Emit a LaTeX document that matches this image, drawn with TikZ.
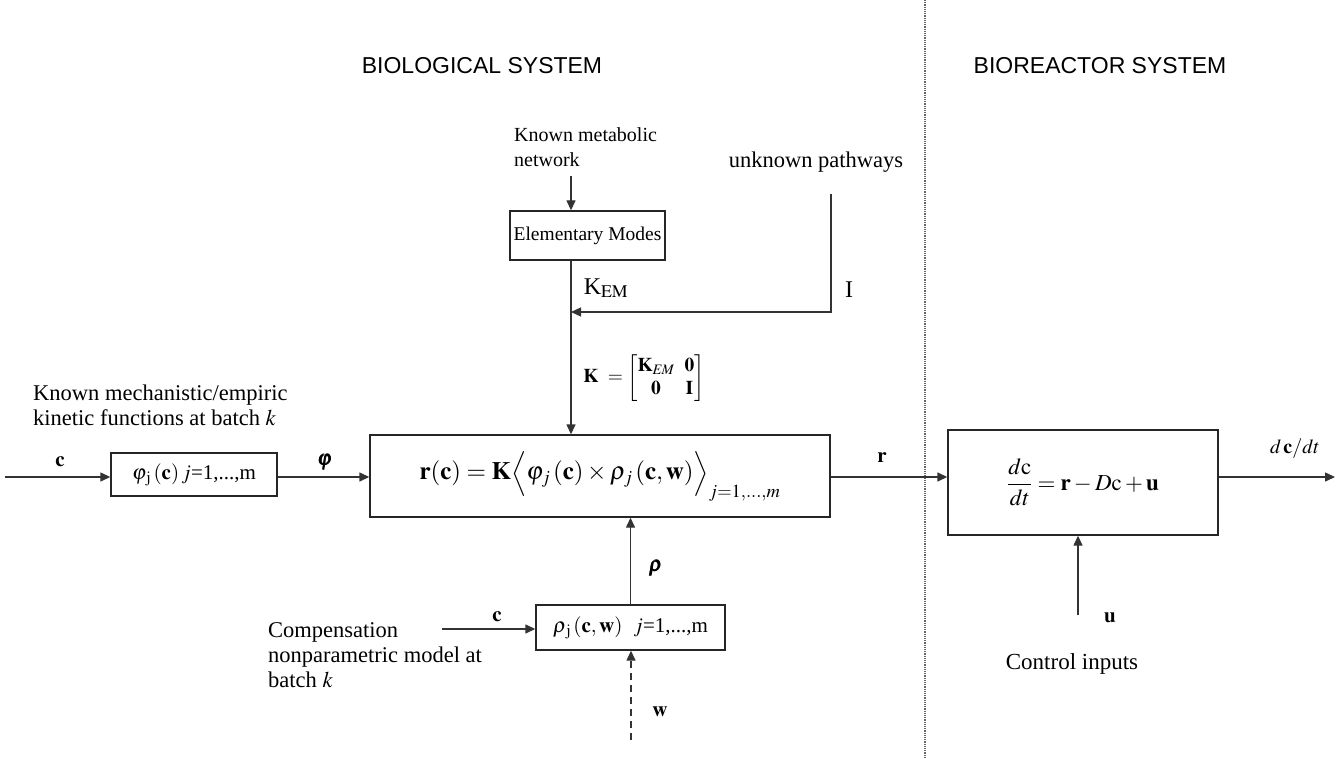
\documentclass[tikz,border=0pt]{standalone}
\usepackage{amsmath,amssymb}
\usepackage{mathptmx}
\usepackage{fontspec}
\setmainfont{Liberation Serif}
\setsansfont{Liberation Sans}
\usetikzlibrary{arrows.meta}
\newcommand\txtsz{\fontsize{21}{25}\selectfont}
\tikzset{
  ln/.style={draw=black!80, line width=1.4pt},
  arr/.style={ln, -{Triangle[length=10pt,width=9pt]}},
  blk/.style={draw=black!85, line width=1.4pt, minimum width=#1, inner sep=0pt},
  lbl/.style={font=\txtsz, inner sep=0pt},
  txt/.style={font=\txtsz, inner sep=0pt, align=left, anchor=west},
  sysl/.style={font=\sffamily\fontsize{23}{27}\selectfont, inner sep=0pt}
}
\begin{document}
\begin{tikzpicture}[x=1pt,y=-1pt]
\useasboundingbox (0,0) rectangle (1337,759);
\fill[white] (0,0) rectangle (1337,759);

% titles and separator
\node[sysl] (bio) at (482,66) {BIOLOGICAL SYSTEM};
\node[sysl] (bior) at (1100,66) {BIOREACTOR SYSTEM};
\coordinate (septop) at (925,0);
\coordinate (sepbot) at (925,759);
\draw[black!60, line width=1.2pt, densely dotted] (septop) -- (sepbot);

% boxes
\node[blk=155pt, minimum height=49pt, font=\fontsize{19.5}{23}\selectfont] (em) at (587.5,235.5) {Elementary Modes};
\node[blk=460pt, minimum height=82pt, font=\fontsize{25}{30}\selectfont] (main) at (600,476)
  {$\mathbf{r}(\mathbf{c}) = \mathbf{K}\Big\langle \varphi_{j}\,(\mathbf{c})\times\rho_{j}\,(\mathbf{c},\mathbf{w})\Big\rangle_{j=1,\ldots,m}$};
\node[blk=166pt, minimum height=43pt, font=\txtsz] (phi) at (194,474.5)
  {$\varphi_{\,\mathrm{j}}\,(\mathbf{c})\,j$=1,...,m};
\node[blk=189pt, minimum height=45pt, font=\txtsz] (rho) at (630.5,627.5)
  {$\rho_{\,\mathrm{j}}\,(\mathbf{c},\mathbf{w})$\;\ $j$=1,...,m};
\node[blk=270pt, minimum height=105pt, font=\fontsize{23}{28}\selectfont] (reac) at (1083,482.5)
  {$\dfrac{d\mathrm{c}}{dt} = \mathbf{r} - D\mathrm{c} + \mathbf{u}$};

% texts
\node[txt, font=\fontsize{20}{25}\selectfont] (kmn) at (514,147) {Known metabolic\\network};
\node[lbl, font=\fontsize{22.5}{27}\selectfont] (unk) at (816,162) {unknown pathways};
\node[txt, font=\fontsize{22.5}{25}\selectfont] (kmech) at (33,405) {Known mechanistic/empiric\\kinetic functions at batch $k$};
\node[txt, font=\fontsize{22.5}{25}\selectfont] (comp) at (268,655) {Compensation\\nonparametric model at\\batch $k$};
\node[lbl, font=\fontsize{23}{27}\selectfont] (ctrl) at (1072,664) {Control inputs};

% coordinates
\coordinate (vx) at (571,0);
\coordinate (kmnout) at (571,176);
\coordinate (ip) at (831,194);
\coordinate (junc) at (571,312);
\coordinate (cin) at (5,477);
\coordinate (out) at (1335,477);
\coordinate (uin) at (1078,615);
\coordinate (c2) at (442,629);
\coordinate (win) at (631,740);

% connectors
\draw[arr] (kmnout) -- (em.north -| vx);
\draw[ln] (em.south -| vx) -- (junc);
\draw[arr] (junc) -- (main.north -| vx);
\draw[arr] (ip) -- (ip |- junc) -- (junc);
\draw[arr] (cin) -- (cin -| phi.west);
\draw[arr] (cin -| phi.east) -- (cin -| main.west);
\draw[arr] (cin -| main.east) -- (cin -| reac.west);
\draw[arr] (cin -| reac.east) -- (out);
\draw[arr] (uin) -- (uin |- reac.south);
\draw[arr] (rho.north) -- (rho.north |- main.south);
\draw[arr] (c2) -- (c2 -| rho.west);
\draw[arr, dashed, dash pattern=on 7pt off 5pt] (win) -- (win |- rho.south);

% connector labels
\node[lbl] (lc1) at (60,462) {$\mathbf{c}$};
\node[lbl] (lphi) at (325,462) {\pmb{$\varphi$}};
\node[lbl] (lr) at (882,458) {$\mathbf{r}$};
\node[lbl, font=\fontsize{20}{24}\selectfont] (ldc) at (1295,449) {$d\,\mathbf{c}/dt$};
\node[lbl] (lrho) at (656,568) {\pmb{$\rho$}};
\node[lbl] (lc2) at (497,617) {$\mathbf{c}$};
\node[lbl] (lw) at (660,712) {$\mathbf{w}$};
\node[lbl] (lu) at (1110,618) {$\mathbf{u}$};
\node[lbl, font=\fontsize{24}{28}\selectfont] (lI) at (849,290) {I};
\node[lbl, font=\fontsize{24}{28}\selectfont] (lkem) at (606,288) {K$_{\mathrm{EM}}$};
\node[lbl, font=\fontsize{19.5}{23}\selectfont] (lk) at (644,378)
  {$\mathbf{K}\ = \begin{bmatrix}\mathbf{K}_{\mathit{EM}} & \mathbf{0}\\ \mathbf{0} & \mathbf{I}\end{bmatrix}$};
\end{tikzpicture}
\end{document}
